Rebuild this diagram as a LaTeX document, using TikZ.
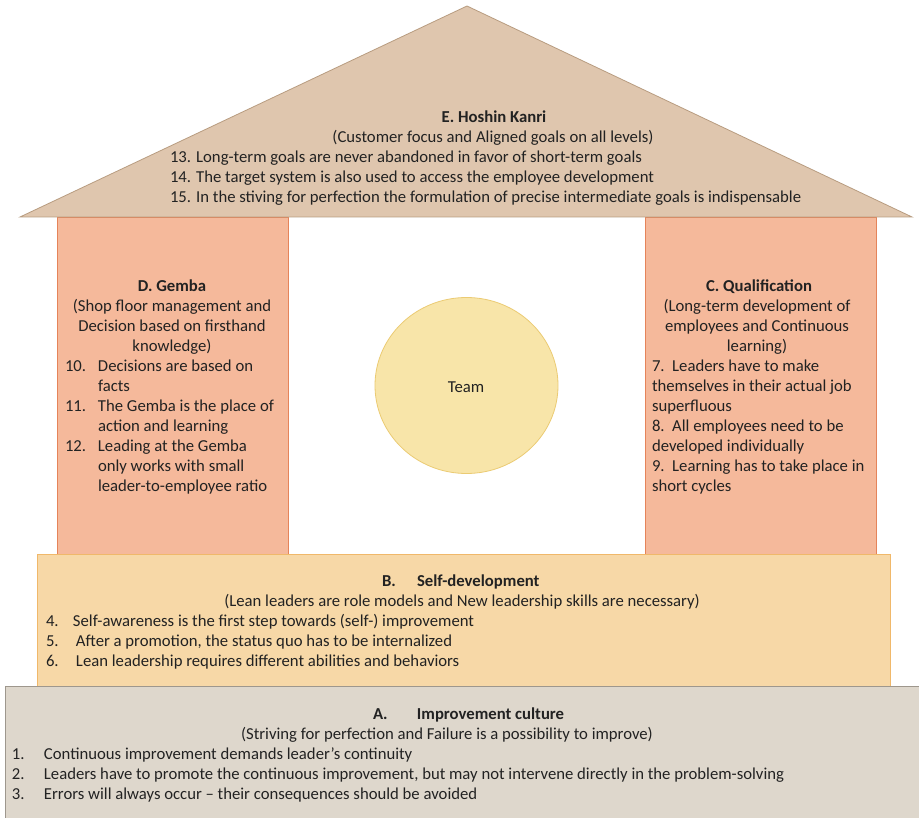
\documentclass[tikz,border=0pt]{standalone}
\usepackage{fontspec}
\setmainfont{Carlito}

\definecolor{inkc}{HTML}{222222}
\definecolor{roofFill}{HTML}{DFC6AE}
\definecolor{roofLine}{HTML}{B89C80}
\definecolor{pillarFill}{HTML}{F5B99B}
\definecolor{pillarLine}{HTML}{E5845A}
\definecolor{teamFill}{HTML}{F8E5A9}
\definecolor{teamLine}{HTML}{EBCB73}
\definecolor{selfFill}{HTML}{F7D8A7}
\definecolor{selfLine}{HTML}{F0B86A}
\definecolor{baseFill}{HTML}{DED7CC}
\definecolor{baseLine}{HTML}{9E978D}

\newcommand\numbox[2]{\makebox[#1][l]{#2}}

\begin{document}
\begin{tikzpicture}[x=1pt,y=-1pt,
  txt/.style={inner sep=0pt, outer sep=0pt, text=inkc,
              font=\fontsize{16.7}{20}\selectfont},
  roofshape/.style={fill=roofFill, draw=roofLine, line width=0.8pt, line join=miter},
  pillarshape/.style={fill=pillarFill, draw=pillarLine, line width=0.8pt},
  teamshape/.style={fill=teamFill, draw=teamLine, line width=0.8pt},
  selfshape/.style={fill=selfFill, draw=selfLine, line width=0.8pt},
  baseshape/.style={fill=baseFill, draw=baseLine, line width=0.8pt}]
\useasboundingbox (0,0) rectangle (919,818);
\fill[white] (0,0) rectangle (919,818);

% pillars
\path[pillarshape] (57,217) rectangle (288,556);
\path[pillarshape] (645,217) rectangle (876,556);

% roof
\path[roofshape] (20,217) -- (467,6) -- (912,217) -- cycle;

% team circle
\path[teamshape] (466.5,385.5) ellipse [x radius=91.5, y radius=88];

% self-development floor
\path[selfshape] (37,554) rectangle (890,686);

% improvement culture foundation
\path[baseshape] (5,686) rectangle (930,830);

% ---- E. Hoshin Kanri
\node[txt, anchor=base] (etitle) at (494,123) {\bfseries E. Hoshin Kanri};
\node[txt, anchor=base] (esub) at (493,143) {(Customer focus and Aligned goals on all levels)};
\node[txt, anchor=base west] (eitems) at (170,163) {\begin{tabular}[t]{@{}l@{}}
13. Long-term goals are never abandoned in favor of short-term goals\\
14. The target system is also used to access the employee development\\
15. In the stiving for perfection the formulation of precise intermediate goals is indispensable
\end{tabular}};

% ---- D. Gemba
\node[txt, anchor=base] (dtitle) at (172,292) {\bfseries D. Gemba};
\node[txt, anchor=base] (dsub) at (172,312) {\begin{tabular}[t]{@{}c@{}}
(Shop floor management and\\
Decision based on firsthand\\
knowledge)
\end{tabular}};
\node[txt, anchor=base west] (ditems) at (65,372) {\begin{tabular}[t]{@{}l@{}}
\numbox{33pt}{10.}Decisions are based on\\
\numbox{33pt}{}facts\\
\numbox{33pt}{11.}The Gemba is the place of\\
\numbox{33pt}{}action and learning\\
\numbox{33pt}{12.}Leading at the Gemba\\
\numbox{33pt}{}only works with small\\
\numbox{33pt}{}leader-to-employee ratio
\end{tabular}};

% ---- C. Qualification
\node[txt, anchor=base] (ctitle) at (759,292) {\bfseries C. Qualification};
\node[txt, anchor=base] (csub) at (757,312) {\begin{tabular}[t]{@{}c@{}}
(Long-term development of\\
employees and Continuous\\
learning)
\end{tabular}};
\node[txt, anchor=base west] (citems) at (652,372) {\begin{tabular}[t]{@{}l@{}}
7.\ \ Leaders have to make\\
themselves in their actual job\\
superfluous\\
8.\ \ All employees need to be\\
developed individually\\
9.\ \ Learning has to take place in\\
short cycles
\end{tabular}};

% ---- Team
\node[txt, anchor=base] (team) at (466,392) {Team};

% ---- B. Self-development
\node[txt, anchor=base west] (btitle) at (382,586) {\bfseries\numbox{35pt}{B.}Self-development};
\node[txt, anchor=base] (bsub) at (462,606) {(Lean leaders are role models and New leadership skills are necessary)};
\node[txt, anchor=base west] (bitems) at (46,626) {\begin{tabular}[t]{@{}l@{}}
\numbox{27pt}{4.}Self-awareness is the first step towards (self-) improvement\\
\numbox{30pt}{5.}After a promotion, the status quo has to be internalized\\
\numbox{30pt}{6.}Lean leadership requires different abilities and behaviors
\end{tabular}};

% ---- A. Improvement culture
\node[txt, anchor=base west] (atitle) at (373,719) {\bfseries\numbox{44pt}{A.}Improvement culture};
\node[txt, anchor=base] (asub) at (447,739) {(Striving for perfection and Failure is a possibility to improve)};
\node[txt, anchor=base west] (aitems) at (12,759) {\begin{tabular}[t]{@{}l@{}}
\numbox{32pt}{1.}Continuous improvement demands leader’s continuity\\
\numbox{32pt}{2.}Leaders have to promote the continuous improvement, but may not intervene directly in the problem-solving\\
\numbox{32pt}{3.}Errors will always occur -- their consequences should be avoided
\end{tabular}};
\end{tikzpicture}
\end{document}
